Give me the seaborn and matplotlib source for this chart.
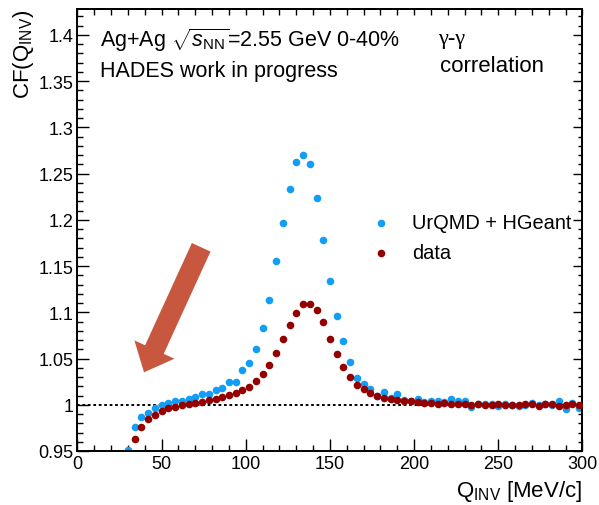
import matplotlib
matplotlib.use("Agg")
import matplotlib.pyplot as plt
import pandas as pd
import seaborn as sns
from matplotlib.patches import FancyArrow
from matplotlib.ticker import MultipleLocator, FuncFormatter, NullFormatter

# Simulated gamma-gamma correlation function (UrQMD + HGeant)
q_sim = [30, 34, 38, 42, 46, 50, 54, 58, 62, 66, 70, 74, 78, 82, 86, 90, 94, 98,
         102, 106, 110, 114, 118, 122, 126, 130, 134, 138, 142, 146, 150, 154,
         158, 162, 166, 170, 174, 178, 182, 186, 190, 194, 198, 202, 206, 210,
         214, 218, 222, 226, 230, 234, 238, 242, 246, 250, 254, 258, 262, 266,
         270, 274, 278, 282, 286, 290, 294, 298]
cf_sim = [0.9516, 0.9755, 0.9863, 0.9913, 0.9970, 0.9993, 1.0020, 1.0036, 1.0043,
          1.0065, 1.0083, 1.0112, 1.0112, 1.0162, 1.0180, 1.0249, 1.0249, 1.0379,
          1.0455, 1.0603, 1.0830, 1.1133, 1.1558, 1.1962, 1.2338, 1.2626, 1.2706,
          1.2605, 1.2237, 1.1786, 1.1335, 1.0956, 1.0685, 1.0462, 1.0289, 1.0220,
          1.0166, 1.0094, 1.0133, 1.0076, 1.0116, 1.0051, 1.0043, 1.0058, 1.0029,
          1.0036, 1.0043, 1.0029, 1.0058, 1.0043, 1.0043, 0.9978, 1.0007, 1.0011,
          1.0007, 0.9986, 1.0011, 0.9993, 0.9986, 0.9993, 1.0022, 0.9996, 1.0011,
          0.9996, 1.0036, 0.9949, 1.0022, 0.9964]

# Measured correlation function
q_data = [34, 38, 42, 46, 50, 54, 58, 62, 66, 70, 74, 78, 82, 86, 90, 94, 98,
          102, 106, 110, 114, 118, 122, 126, 130, 134, 138, 142, 146, 150, 154,
          158, 162, 166, 170, 174, 178, 182, 186, 190, 194, 198, 202, 206, 210,
          214, 218, 222, 226, 230, 234, 238, 242, 246, 250, 254, 258, 262, 266,
          270, 274, 278, 282, 286, 290, 294, 298]
cf_data = [0.9625, 0.9755, 0.9841, 0.9892, 0.9928, 0.9964, 0.9978, 0.9993, 1.0011,
           1.0022, 1.0032, 1.0054, 1.0065, 1.0083, 1.0101, 1.0130, 1.0162, 1.0195,
           1.0260, 1.0335, 1.0433, 1.0563, 1.0714, 1.0858, 1.0996, 1.1085, 1.1085,
           1.1025, 1.0891, 1.0714, 1.0544, 1.0404, 1.0296, 1.0216, 1.0170, 1.0130,
           1.0097, 1.0076, 1.0061, 1.0051, 1.0043, 1.0036, 1.0025, 1.0022, 1.0014,
           1.0007, 1.0014, 1.0010, 1.0004, 1.0004, 0.9996, 1.0004, 0.9996, 0.9996,
           1.0004, 0.9996, 0.9996, 0.9996, 1.0004, 1.0011, 0.9986, 1.0004, 1.0011,
           0.9986, 0.9996, 1.0004, 0.9996]

sim_label = "UrQMD + HGeant"
data_label = "data"
sim_color = "#129ef6"
data_color = "#940000"

sns.set_theme(style="ticks")
plt.rcParams["font.family"] = ["Liberation Sans", "DejaVu Sans"]
plt.rcParams["mathtext.fontset"] = "custom"
plt.rcParams["mathtext.rm"] = "Liberation Sans"
plt.rcParams["mathtext.it"] = "Liberation Sans:italic"
plt.rcParams["mathtext.bf"] = "Liberation Sans:bold"
plt.rcParams["text.color"] = "black"
plt.rcParams["axes.labelcolor"] = "black"
plt.rcParams["xtick.color"] = "black"
plt.rcParams["ytick.color"] = "black"

df_sim = pd.DataFrame({"Q": q_sim, "CF": cf_sim})
df_data = pd.DataFrame({"Q": q_data, "CF": cf_data})

fig = plt.figure(figsize=(5.99, 5.06), dpi=100)
ax = fig.add_axes([0.12938, 0.10672, 0.84307, 0.87352])

ax.axhline(1.0, color="black", lw=1.4, ls=(0, (1.4, 1.4)), zorder=1)

sns.scatterplot(data=df_sim, x="Q", y="CF", color=sim_color, s=30, linewidth=0,
                ax=ax, label=sim_label, zorder=2)
sns.scatterplot(data=df_data, x="Q", y="CF", color=data_color, s=30, linewidth=0,
                ax=ax, label=data_label, zorder=3)

ax.set_xlim(0, 300)
ax.set_ylim(0.95, 1.428)

ax.xaxis.set_major_locator(MultipleLocator(50))
ax.xaxis.set_minor_locator(MultipleLocator(10))
ax.yaxis.set_major_locator(MultipleLocator(0.05))
ax.yaxis.set_minor_locator(MultipleLocator(0.01))
ax.yaxis.set_major_formatter(FuncFormatter(lambda v, p: f"{v:g}"))

ax.tick_params(which="both", direction="in", top=False, right=False,
               width=1.0, labelsize=13)
ax.tick_params(which="major", length=8.6)
ax.tick_params(which="minor", length=4.3)
ax.tick_params(axis="x", pad=3)
ax.tick_params(axis="y", pad=3)

# Opposite-side frame ticks (shorter, unlabeled)
top = ax.secondary_xaxis("top")
top.xaxis.set_major_locator(MultipleLocator(10))
top.xaxis.set_minor_locator(MultipleLocator(10))
top.xaxis.set_major_formatter(NullFormatter())
top.tick_params(which="both", direction="in", length=4.3, width=1.0)
right = ax.secondary_yaxis("right")
right.yaxis.set_major_locator(MultipleLocator(0.05))
right.yaxis.set_minor_locator(MultipleLocator(0.01))
right.yaxis.set_major_formatter(NullFormatter())
right.tick_params(which="major", direction="in", length=6.5, width=1.0)
right.tick_params(which="minor", direction="in", length=3.2, width=1.0)
for sec in (top, right):
    for sp in sec.spines.values():
        sp.set_linewidth(1.4)
        sp.set_color("black")

for side in ["left", "right", "top", "bottom"]:
    ax.spines[side].set_visible(True)
    ax.spines[side].set_linewidth(1.4)
    ax.spines[side].set_color("black")

ax.set_ylabel(r"CF(Q$_{\rm INV}$)", fontsize=16, loc="top")
ax.yaxis.set_label_coords(-0.083, 1.0)
ax.set_xlabel(r"Q$_{\rm INV}$ [MeV/c]", fontsize=16, loc="right")
ax.xaxis.set_label_coords(1.0, -0.06)

leg = ax.legend(loc="center left", bbox_to_anchor=(0.5806, 0.4826),
                frameon=False, fontsize=14.4, handlelength=1.0,
                handletextpad=1.05, labelspacing=0.56, borderpad=0,
                borderaxespad=0, markerscale=1.0)

ax.text(0.0446, 0.917, r"Ag+Ag $\sqrt{s_{\rm NN}}$=2.55 GeV 0-40%",
        transform=ax.transAxes, fontsize=15.5, va="baseline")
ax.text(0.0446, 0.848, "HADES work in progress",
        transform=ax.transAxes, fontsize=15.5, va="baseline")
ax.text(0.714, 0.923, "γ-γ", transform=ax.transAxes, fontsize=16,
        va="baseline", family=["Liberation Serif", "DejaVu Serif"])
ax.text(0.718, 0.860, "correlation", transform=ax.transAxes, fontsize=16,
        va="baseline")

# Highlight arrow pointing at the low-Q region (figure inches)
tail = (2.012, 2.577)
tip = (1.44, 1.327)
arrow = FancyArrow(tail[0], tail[1], tip[0] - tail[0], tip[1] - tail[1],
                   width=0.205, head_width=0.44, head_length=0.25,
                   length_includes_head=True, color="#c85740", lw=0,
                   transform=fig.dpi_scale_trans, zorder=5)
fig.add_artist(arrow)

fig.savefig("out.png", dpi=100)
